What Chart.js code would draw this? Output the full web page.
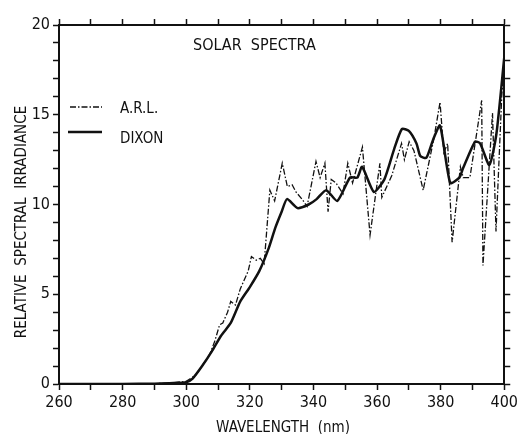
<!DOCTYPE html>
<html>
<head>
<meta charset="utf-8">
<script src="https://cdn.jsdelivr.net/npm/chart.js@4.4.1/dist/chart.umd.min.js"></script>
<style>
  html, body { margin: 0; padding: 0; background: #fff; }
  #wrap { width: 521px; height: 434px; }
</style>
</head>
<body>
<div id="wrap"><canvas id="c" width="521" height="434"></canvas></div>
<script>
// wavelength (nm) and relative irradiance
const arlWl = [260, 270, 280, 290, 295, 300, 303, 305, 307.5, 309, 310.5, 311.5, 313, 314, 315.5,
  317, 318, 319.5, 320.5, 322, 323.3, 324.5, 326.3, 327.8, 330.2, 331.8, 333.3, 334.5, 336.4,
  338, 340.8, 342.1, 343.6, 344.6, 345.6, 347.1, 349.3, 350.8, 352.3, 355.4, 357.8, 360.9, 361.5,
  364.6, 367.7, 368.6, 370.1, 371.6, 374.5, 377.8, 379.8, 381, 382.2, 383.6, 386.2, 387.1, 389.2,
  392.9, 393.3, 396.3, 397.4, 399.2, 400];
const arlVal = [0, 0, 0, 0.02, 0.05, 0.15, 0.5, 1.0, 1.7, 2.4, 3.3, 3.4, 4.0, 4.6, 4.4,
  5.3, 5.7, 6.3, 7.1, 6.9, 7.0, 6.7, 10.8, 10.2, 12.3, 11.0, 11.1, 10.7, 10.3,
  9.9, 12.4, 11.5, 12.3, 9.6, 11.4, 11.2, 10.6, 12.3, 11.2, 13.2, 8.3, 12.3, 10.4,
  11.6, 13.4, 12.5, 13.5, 13.0, 10.8, 13.6, 15.7, 12.9, 13.4, 7.9, 12.1, 11.5, 11.5,
  15.8, 6.6, 15.1, 8.5, 16.0, 18.0];

const dixonWl = [260, 280, 290, 296, 300, 302, 305, 308, 311, 314, 317, 320, 323, 326, 328, 330,
  331.7, 335, 338.5, 341, 344, 347.5, 351.5, 353.8, 355.3, 359, 362.3, 365.4, 367.8, 370, 372.4,
  373.6, 375.5, 377.6, 379.8, 383, 385.9, 387, 390.8, 392.4, 395.3, 397.5, 400];
const dixonVal = [0, 0, 0.02, 0.05, 0.1, 0.3, 1.0, 1.8, 2.7, 3.4, 4.6, 5.4, 6.3, 7.6, 8.7, 9.6,
  10.3, 9.8, 10.0, 10.3, 10.8, 10.2, 11.5, 11.5, 12.1, 10.7, 11.4, 13.1, 14.2, 14.1, 13.4,
  12.7, 12.6, 13.6, 14.4, 11.2, 11.5, 12.0, 13.5, 13.4, 12.2, 13.9, 18.2];

const xTicks = [260, 280, 300, 320, 340, 360, 380, 400];
const yTicks = [0, 5, 10, 15, 20];

const FONT = "'Liberation Sans Narrow', 'DejaVu Sans Condensed', 'Liberation Sans', sans-serif";

const pts = (xs, ys) => xs.map((x, i) => ({ x, y: ys[i] }));

// titles + hand drawn legend, inside/around the frame
const textPlugin = {
  id: 'texts',
  afterDraw(chart) {
    const ctx = chart.ctx;
    ctx.save();
    ctx.fillStyle = '#111';
    ctx.strokeStyle = '#111';
    ctx.textBaseline = 'alphabetic';

    ctx.font = '16px ' + FONT;
    ctx.textAlign = 'left';
    ctx.fillText('SOLAR  SPECTRA', 193, 50);

    // legend
    ctx.lineWidth = 1.3;
    ctx.setLineDash([6, 2, 1.5, 2]);
    ctx.beginPath(); ctx.moveTo(70, 107); ctx.lineTo(102, 107); ctx.stroke();
    ctx.setLineDash([]);
    ctx.lineWidth = 2.5;
    ctx.beginPath(); ctx.moveTo(68, 132); ctx.lineTo(102, 132); ctx.stroke();
    ctx.font = '15px ' + FONT;
    ctx.fillText('A.R.L.', 120, 113);
    ctx.fillText('DIXON', 120, 143);

    // axis titles
    ctx.font = '15px ' + FONT;
    ctx.textAlign = 'center';
    ctx.fillText('WAVELENGTH  (nm)', 283, 432);
    ctx.translate(26, 222);
    ctx.rotate(-Math.PI / 2);
    ctx.fillText('RELATIVE  SPECTRAL  IRRADIANCE', 0, 0);
    ctx.restore();
  }
};

const tickGrid = {
  drawOnChartArea: false,
  drawTicks: true,
  tickLength: 6,
  tickColor: '#111',
  tickWidth: 1.5
};
const frame = { display: true, color: '#111', width: 2 };

new Chart(document.getElementById('c'), {
  type: 'line',
  data: {
    datasets: [
      {
        label: 'A.R.L.',
        data: pts(arlWl, arlVal),
        borderColor: '#111',
        borderWidth: 1.3,
        borderDash: [6, 2, 1.5, 2],
        pointRadius: 0,
        tension: 0
      },
      {
        label: 'DIXON',
        data: pts(dixonWl, dixonVal),
        borderColor: '#111',
        borderWidth: 2.5,
        pointRadius: 0,
        tension: 0.2
      }
    ]
  },
  options: {
    responsive: false,
    animation: false,
    layout: { padding: 0 },
    plugins: {
      legend: { display: false },
      tooltip: { enabled: false },
      title: { display: false }
    },
    scales: {
      x: {
        type: 'linear', position: 'bottom', min: 260, max: 400,
        grid: tickGrid, border: frame,
        ticks: {
          stepSize: 10, padding: 3, color: '#111', maxRotation: 0, autoSkip: false,
          font: { family: FONT, size: 16 },
          callback: v => xTicks.includes(v) ? String(v) : ''
        },
        afterFit: s => { s.height = 50; }
      },
      x2: {
        type: 'linear', position: 'top', min: 260, max: 400,
        grid: tickGrid, border: frame,
        ticks: { stepSize: 10, display: false, autoSkip: false },
        afterFit: s => { s.height = 25; }
      },
      y: {
        type: 'linear', position: 'left', min: 0, max: 20,
        grid: tickGrid, border: frame,
        ticks: {
          stepSize: 1, padding: 3, color: '#111', autoSkip: false,
          font: { family: FONT, size: 16 },
          callback: v => yTicks.includes(v) ? String(v) : ''
        },
        afterFit: s => { s.width = 59; }
      },
      y2: {
        type: 'linear', position: 'right', min: 0, max: 20,
        grid: tickGrid, border: frame,
        ticks: { stepSize: 1, display: false, autoSkip: false },
        afterFit: s => { s.width = 5; }
      }
    }
  },
  plugins: [textPlugin]
});
</script>
</body>
</html>
